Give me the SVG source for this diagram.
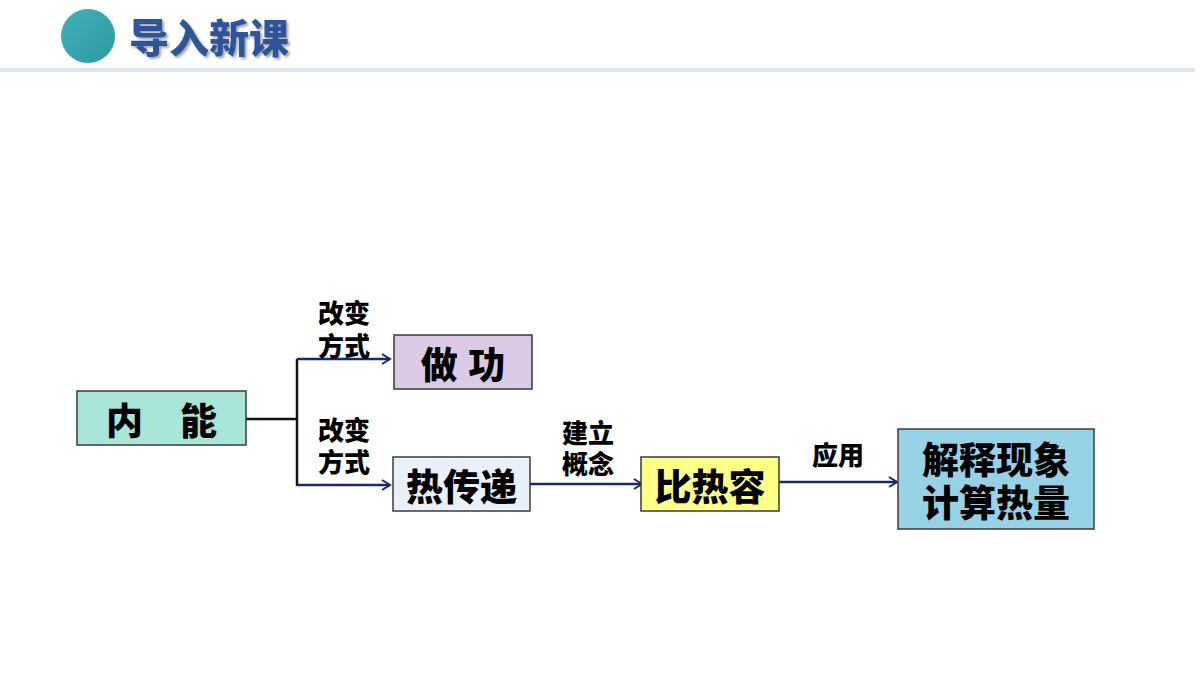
<svg xmlns="http://www.w3.org/2000/svg" width="1200" height="675" viewBox="0 0 1200 675">
<defs>
<style>
.t{font-family:"Liberation Sans","Noto Sans CJK SC",sans-serif;font-weight:900;fill:#000;}
.box{stroke:#3a3a3a;stroke-width:1.5;}
.c{fill:none;stroke:#1b2a66;stroke-width:2.5;}
.k{fill:none;stroke:#111;stroke-width:2.5;}
</style>
<marker id="ah" markerWidth="12" markerHeight="12" refX="10" refY="6" orient="auto" markerUnits="userSpaceOnUse">
<path d="M2,1 L10,6 L2,11" fill="none" stroke="#1b2a66" stroke-width="2"/>
</marker>
<filter id="sh" x="-10%" y="-10%" width="130%" height="140%">
<feDropShadow dx="2" dy="2" stdDeviation="1.2" flood-color="#000" flood-opacity="0.35"/>
</filter>
<linearGradient id="cg" x1="0" y1="0" x2="1" y2="1">
<stop offset="0" stop-color="#3fb0b8"/>
<stop offset="1" stop-color="#2d9aa6"/>
</linearGradient>
</defs>
<rect width="1200" height="675" fill="#fff"/>
<g id="header">
<circle cx="88" cy="36" r="27" fill="url(#cg)"/>
<text x="129" y="53" font-family="'Liberation Sans','Noto Sans CJK SC',sans-serif" font-weight="900" font-size="40" fill="#2f5597" filter="url(#sh)">导入新课</text>
<rect x="0" y="68" width="1195" height="4" fill="#dfe5ee"/>
</g>
<g id="connectors">
<path class="k" d="M246,419 H297"/>
<path class="k" d="M297,359 V486"/>
<path class="c" d="M297,359 H390" marker-end="url(#ah)"/>
<path class="c" d="M297,485 H390" marker-end="url(#ah)"/>
<path class="c" d="M530,484 H642" marker-end="url(#ah)"/>
<path class="c" d="M779,482 H897" marker-end="url(#ah)"/>
</g>
<g id="labels">
<text class="t" x="318" y="323" font-size="26">改变</text>
<text class="t" x="318" y="356" font-size="26">方式</text>
<text class="t" x="318" y="440" font-size="26">改变</text>
<text class="t" x="318" y="472" font-size="26">方式</text>
<text class="t" x="562" y="443" font-size="26">建立</text>
<text class="t" x="562" y="474" font-size="26">概念</text>
<text class="t" x="812" y="465" font-size="26">应用</text>
</g>
<g id="node-neineng">
<rect class="box" x="77" y="391" width="169" height="54" fill="#a9e4d9"/>
<text class="t" x="161.5" y="435" font-size="37" text-anchor="middle">内　能</text>
</g>
<g id="node-zuogong">
<rect class="box" x="394" y="335" width="138" height="54" fill="#dcc9e3"/>
<text class="t" x="463" y="379" font-size="37" text-anchor="middle">做 功</text>
</g>
<g id="node-rechuandi">
<rect class="box" x="393" y="457" width="137" height="54" fill="#e9f0fb"/>
<text class="t" x="461.5" y="501" font-size="37" text-anchor="middle">热传递</text>
</g>
<g id="node-bireirong">
<rect class="box" x="641" y="457" width="138" height="54" fill="#ffff88"/>
<text class="t" x="710" y="501" font-size="37" text-anchor="middle">比热容</text>
</g>
<g id="node-jieshi">
<rect class="box" x="898" y="429" width="196" height="100" fill="#97d1e5"/>
<text class="t" x="996" y="474" font-size="37" text-anchor="middle">解释现象</text>
<text class="t" x="996" y="517" font-size="37" text-anchor="middle">计算热量</text>
</g>
</svg>
